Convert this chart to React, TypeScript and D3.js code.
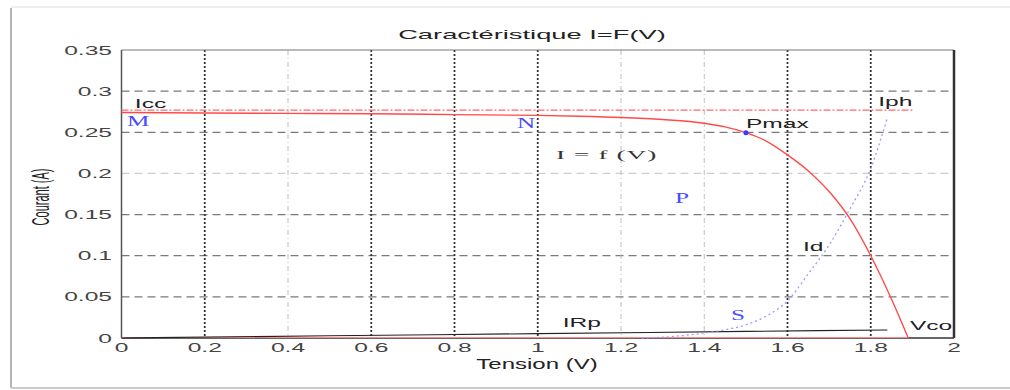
import React from "react";
import * as d3 from "d3";

// I = f(V) characteristic of the cell
const voltsIV = [0, 0.2, 0.4, 0.6, 0.8, 1.0, 1.1, 1.2, 1.3, 1.4, 1.45, 1.5, 1.55, 1.6, 1.65, 1.7, 1.75, 1.8, 1.85, 1.89];
const currentIV = [0.274, 0.2735, 0.273, 0.2725, 0.2715, 0.2705, 0.2695, 0.268, 0.2655, 0.261, 0.2565, 0.2495, 0.239, 0.2225, 0.203, 0.178, 0.145, 0.1, 0.047, 0];

// diode current Id
const voltsId = [1.25, 1.3, 1.35, 1.4, 1.45, 1.5, 1.55, 1.6, 1.65, 1.7, 1.75, 1.8, 1.84];
const currentId = [0, 0.001, 0.003, 0.006, 0.01, 0.016, 0.027, 0.045, 0.078, 0.113, 0.157, 0.206, 0.268];

// current in the parallel resistance
const voltsRp = [0, 0.5, 1, 1.5, 1.84];
const currentRp = [0, 0.0027, 0.0053, 0.008, 0.0098];

// photo-current (constant)
const iph = 0.277;
const iphRange = [0, 1.9];
const vco = 1.89;
const pmax = { v: 1.5, i: 0.2495 };

const xTicks = [0, 0.2, 0.4, 0.6, 0.8, 1, 1.2, 1.4, 1.6, 1.8, 2];
const yTicks = [0, 0.05, 0.1, 0.15, 0.2, 0.25, 0.3, 0.35];
const xTickLabels = ["0", "0.2", "0.4", "0.6", "0.8", "1", "1.2", "1.4", "1.6", "1.8", "2"];
const yTickLabels = ["0", "0.05", "0.1", "0.15", "0.2", "0.25", "0.3", "0.35"];

const notes = [
  { text: "Icc", v: 0.032, i: 0.2795, kind: "sans" },
  { text: "M", v: 0.013, i: 0.2576, kind: "blue" },
  { text: "N", v: 0.95, i: 0.2552, kind: "blue" },
  { text: "Pmax", v: 1.5, i: 0.2555, kind: "sans" },
  { text: "Iph", v: 1.818, i: 0.282, kind: "sans" },
  { text: "I = f (V)", v: 1.044, i: 0.2175, kind: "serif" },
  { text: "P", v: 1.33, i: 0.164, kind: "blue" },
  { text: "Id", v: 1.637, i: 0.1057, kind: "sans" },
  { text: "S", v: 1.464, i: 0.0219, kind: "blue" },
  { text: "IRp", v: 1.06, i: 0.0134, kind: "sans" },
  { text: "Vco", v: 1.894, i: 0.0097, kind: "sans" },
];

const lightX = [0.4, 1.2, 1.4];
const lightY = [0.2];

const SANS = "'Liberation Sans', Arial, sans-serif";
const SERIF = "'Liberation Serif', 'Times New Roman', serif";
const SX = 2.05;

const T = ({ x, y, children, anchor = "start", size = 12, family = SANS, fill = "#222", sx = SX, weight = "normal", ls = 0 }: any) => (
  <text
    transform={`translate(${x},${y}) scale(${sx},1)`}
    textAnchor={anchor}
    fontSize={size}
    fontFamily={family}
    fill={fill}
    fontWeight={weight}
    letterSpacing={ls}
  >
    {children}
  </text>
);

export default function App() {
  const width = 1010;
  const height = 390;

  const x = d3.scaleLinear().domain([0, 2]).range([121.5, 954]);
  const y = d3.scaleLinear().domain([0, 0.35]).range([338, 50]);

  const line = d3
    .line<[number, number]>()
    .x((d) => x(d[0]))
    .y((d) => y(d[1]))
    .curve(d3.curveMonotoneX);

  const ivPath = line(voltsIV.map((v, k) => [v, currentIV[k]]));
  const idPath = line(voltsId.map((v, k) => [v, currentId[k]]));
  const rpPath = line(voltsRp.map((v, k) => [v, currentRp[k]]));

  return (
    <svg width={width} height={height} style={{ position: "absolute", left: 0, top: 0, background: "#fff" }}>
      {/* window frame */}
      <line x1={11} x2={11} y1={8} y2={388} stroke="#b5b5b5" strokeWidth={2} />
      <line x1={11} x2={1010} y1={7} y2={7} stroke="#eeeeee" strokeWidth={2} />
      <line x1={11} x2={1010} y1={388} y2={388} stroke="#cccccc" strokeWidth={2} />

      {/* grid */}
      {yTicks.slice(1, -1).map((t) => (
        <line
          key={"gy" + t}
          x1={x(0)}
          x2={x(2)}
          y1={y(t)}
          y2={y(t)}
          stroke={lightY.includes(t) ? "#cfcfcf" : "#7a7a7a"}
          strokeWidth={1.2}
          strokeDasharray="8,5"
        />
      ))}
      {xTicks.slice(1, -1).map((t) => {
        const light = lightX.includes(t);
        return (
          <line
            key={"gx" + t}
            x1={x(t)}
            x2={x(t)}
            y1={y(0.35)}
            y2={y(0)}
            stroke={light ? "#bdbdbd" : "#333"}
            strokeWidth={light ? 1 : 1.8}
            strokeDasharray={light ? "5,3,1,3" : "2,2"}
          />
        );
      })}

      {/* axes box */}
      <line x1={x(0)} x2={x(2)} y1={y(0.35)} y2={y(0.35)} stroke="#777" strokeWidth={1} />
      <line x1={x(0)} x2={x(0)} y1={y(0.35)} y2={y(0)} stroke="#555" strokeWidth={1.5} />
      <line x1={x(2)} x2={x(2)} y1={y(0.35)} y2={y(0)} stroke="#333" strokeWidth={2.5} />
      <line x1={x(0)} x2={x(2)} y1={y(0)} y2={y(0)} stroke="#333" strokeWidth={1.5} />

      {/* tick labels */}
      {yTicks.map((t, k) => (
        <T key={"ty" + t} x={112} y={y(t) + 4.5} anchor="end" size={12} fill="#444">
          {yTickLabels[k]}
        </T>
      ))}
      {xTicks.map((t, k) => (
        <T key={"tx" + t} x={x(t)} y={352} anchor="middle" size={12} fill="#444">
          {xTickLabels[k]}
        </T>
      ))}

      {/* curves */}
      <line x1={x(0)} x2={x(vco)} y1={y(0) - 0.5} y2={y(0) - 0.5} stroke="#ff8c8c" strokeWidth={1.2} />
      <path d={rpPath || ""} fill="none" stroke="#222" strokeWidth={1.1} />
      <path d={idPath || ""} fill="none" stroke="#9a9aff" strokeWidth={1.3} strokeDasharray="2,3" />
      <line
        x1={x(iphRange[0])}
        x2={x(iphRange[1])}
        y1={y(iph)}
        y2={y(iph)}
        stroke="#ff6a6a"
        strokeWidth={1.2}
        strokeDasharray="7,2,2,2"
      />
      <path d={ivPath || ""} fill="none" stroke="#ff4a4a" strokeWidth={1.4} />
      <circle cx={x(pmax.v)} cy={y(pmax.i)} r={2.5} fill="#3a3aff" />

      {/* annotations */}
      {notes.map((n) =>
        n.kind === "blue" ? (
          <T key={n.text} x={x(n.v)} y={y(n.i)} size={14} family={SERIF} fill="#4a4aff" sx={1.8}>
            {n.text}
          </T>
        ) : n.kind === "serif" ? (
          <T key={n.text} x={x(n.v)} y={y(n.i)} size={13} family={SERIF} fill="#333" sx={2.1} ls={0.5}>
            {n.text}
          </T>
        ) : (
          <T key={n.text} x={x(n.v)} y={y(n.i)} size={12} fill="#222">
            {n.text}
          </T>
        )
      )}

      {/* title and axis labels */}
      <T x={532} y={39} anchor="middle" size={13} fill="#222" sx={2.1}>
        Caractéristique I=F(V)
      </T>
      <T x={537} y={369} anchor="middle" size={15} fill="#222" sx={1.6}>
        Tension (V)
      </T>
      <text
        transform={`translate(49,197) rotate(-90) scale(1,2.2)`}
        textAnchor="middle"
        fontSize={11}
        fontFamily={SANS}
        fill="#222"
      >
        Courant (A)
      </text>
    </svg>
  );
}
